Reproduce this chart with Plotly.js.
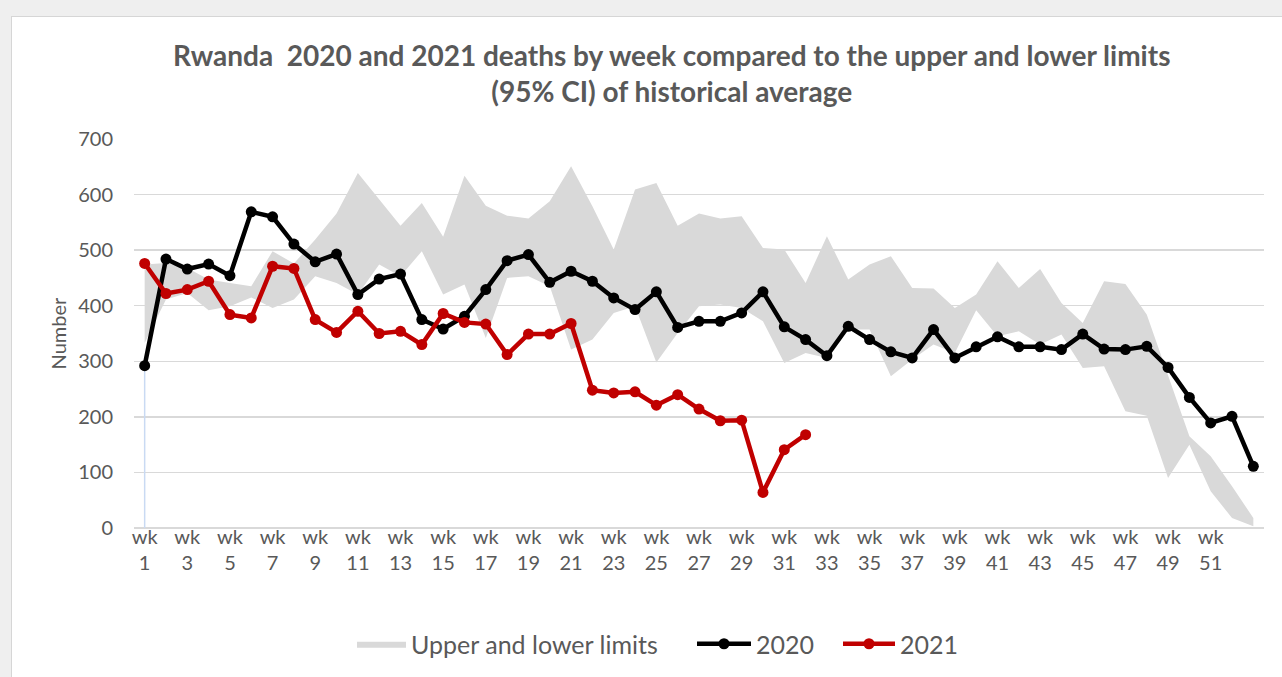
<!DOCTYPE html>
<html>
<head>
<meta charset="utf-8">
<script src="https://cdn.plot.ly/plotly-3.0.1.min.js"></script>
<style>
  html, body { margin: 0; padding: 0; background: #efefef; width: 1282px; height: 677px; overflow: hidden; }
  #frame { position: absolute; left: 11px; top: 16px; width: 1280px; height: 670px; background: #ffffff; border: 1px solid #d6d6d6; }
  #chart { position: absolute; left: 0; top: 0; width: 1282px; height: 677px; }
</style>
</head>
<body>
<div id="frame"></div>
<div id="chart"></div>
<script>
const weeks = [1,2,3,4,5,6,7,8,9,10,11,12,13,14,15,16,17,18,19,20,21,22,23,24,25,26,27,28,29,30,31,32,33,34,35,36,37,38,39,40,41,42,43,44,45,46,47,48,49,50,51,52,53];

const deaths2020 = [292,484,466,475,454,569,560,511,479,493,420,448,457,375,358,381,429,481,492,442,462,444,414,393,425,361,372,372,387,425,362,339,310,363,339,317,306,357,306,326,344,326,326,321,349,322,321,327,289,235,189,201,111];

const deaths2021 = [476,422,429,444,384,378,471,467,375,352,390,350,354,330,386,370,367,312,349,349,368,248,243,245,221,240,214,193,194,64,141,168];

const upperLimit = [474,477,468,447,441,435,498,476,519,566,639,591,544,585,524,634,580,562,557,588,651,579,501,609,621,544,566,557,561,504,501,441,525,447,474,489,432,431,396,420,480,432,466,405,369,444,439,384,273,165,129,75,18];

const lowerLimit = [333,411,423,392,399,415,396,411,453,441,420,474,453,498,420,438,342,450,453,435,321,339,387,399,298,351,399,402,396,372,297,315,306,357,357,273,303,330,315,392,345,354,330,348,288,291,210,202,90,150,66,18,3];

const tickWeeks = [1,3,5,7,9,11,13,15,17,19,21,23,25,27,29,31,33,35,37,39,41,43,45,47,49,51];
const tickLabels = tickWeeks.map(w => 'wk<br>' + w);

const FONT = "Lato, 'Open Sans', sans-serif";
const GREY = '#595959';

const traces = [
  {
    x: weeks, y: lowerLimit, type: 'scatter', mode: 'lines',
    line: {width: 0, color: '#d9d9d9'}, showlegend: false, hoverinfo: 'skip'
  },
  {
    x: weeks, y: upperLimit, type: 'scatter', mode: 'lines',
    fill: 'tonexty', fillcolor: '#d9d9d9',
    line: {width: 0, color: '#d9d9d9'}, name: 'Upper and lower limits', legend: 'legend'
  },
  {
    x: [weeks[0], weeks[0]], y: [0, deaths2020[0]], type: 'scatter', mode: 'lines',
    line: {width: 1.5, color: '#c9daf3'}, showlegend: false, hoverinfo: 'skip'
  },
  {
    x: weeks, y: deaths2020, type: 'scatter', mode: 'lines+markers', name: '2020', legend: 'legend2',
    line: {width: 4.5, color: '#000000'}, marker: {size: 11, color: '#000000'}
  },
  {
    x: weeks.slice(0, deaths2021.length), y: deaths2021, type: 'scatter', mode: 'lines+markers', name: '2021', legend: 'legend3',
    line: {width: 4.5, color: '#c00000'}, marker: {size: 11, color: '#c00000'}
  }
];

const legendFont = {family: FONT, size: 25, color: GREY};
const px = v => (v - 134) / 1130;
const legendY = (528 - 644) / 389;
function legendAt(left, w) {
  return {
    orientation: 'h', traceorder: 'normal', x: px(left), xanchor: 'left', y: legendY, yanchor: 'middle',
    font: legendFont, bgcolor: 'rgba(0,0,0,0)', itemwidth: w
  };
}

const layout = {
  width: 1282, height: 677,
  paper_bgcolor: 'rgba(0,0,0,0)', plot_bgcolor: 'rgba(0,0,0,0)',
  margin: {l: 134, r: 18, t: 139, b: 149, autoexpand: false},
  font: {family: FONT, color: GREY, size: 20},
  title: {
    text: '<b>Rwanda  2020 and 2021 deaths by week compared to the upper and lower limits<br>(95% CI) of historical average</b>',
    font: {family: FONT, size: 28, color: GREY},
    x: 0.524, xanchor: 'center', xref: 'container',
    y: 1 - 66/677, yanchor: 'middle', yref: 'container'
  },
  xaxis: {
    range: [0.5, 53.5], tickmode: 'array', tickvals: tickWeeks, ticktext: tickLabels,
    showgrid: false, zeroline: false, showline: false, ticks: '',
    tickfont: {family: FONT, size: 20, color: GREY}, ticklabelstandoff: -5, automargin: false
  },
  yaxis: {
    range: [0, 700], dtick: 100, tick0: 0,
    showgrid: true, gridcolor: '#d9d9d9', gridwidth: 1.5,
    zeroline: true, zerolinecolor: '#d9d9d9', zerolinewidth: 1.5,
    showline: false, ticks: '', ticklabelstandoff: 20, automargin: false,
    tickfont: {family: FONT, size: 20, color: GREY},
    title: {text: 'Number', font: {family: FONT, size: 20, color: GREY}, standoff: 6}
  },
  legend: legendAt(352, 49),
  legend2: legendAt(692, 54),
  legend3: legendAt(838, 52),
  showlegend: true
};

Plotly.newPlot('chart', traces, layout, {displayModeBar: false, staticPlot: true});
</script>
</body>
</html>
